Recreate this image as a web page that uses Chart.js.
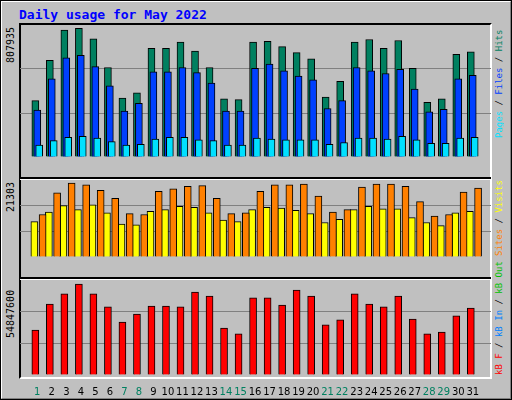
<!DOCTYPE html>
<html><head><meta charset="utf-8">
<script src="https://cdn.jsdelivr.net/npm/chart.js@4"></script>
<style>
body{margin:0;background:#fff}
#wrap{position:absolute;left:0;top:0;width:508px;height:396px;background:#c0c0c0;border-top:2px solid #fff;border-left:2px solid #fff;border-right:2px solid #808080;border-bottom:2px solid #808080;box-sizing:content-box}
#outer{position:absolute;left:0;top:0;width:512px;height:400px;border:1px solid #000;box-sizing:border-box}
.c{position:absolute}
.frame{position:absolute;border:2px solid #000;box-sizing:border-box}
.sep{position:absolute;left:20px;width:471px;height:2px;background:#000;border-bottom:1px solid #fff}
.vl{position:absolute;writing-mode:vertical-rl;transform:rotate(180deg);font-family:"DejaVu Sans Mono",monospace;white-space:nowrap}
#title{position:absolute;left:19px;top:7px;font:bold 13px "DejaVu Sans Mono",monospace;color:#0000ff}
</style></head>
<body>
<div id="wrap"></div>
<div id="outer"></div>
<div id="title">Daily usage for May 2022</div>
<div class="frame" style="left:19px;top:23px;width:473px;height:356px;border-color:#000;border-right-color:#fff;border-bottom-color:#fff"></div>
<div class="sep" style="top:177px"></div>
<div class="sep" style="top:277px"></div>
<canvas id="c1" class="c" width="471" height="152" style="left:20px;top:25px"></canvas>
<canvas id="c2" class="c" width="471" height="97" style="left:20px;top:180px"></canvas>
<canvas id="c3" class="c" width="471" height="115" style="left:20px;top:280px"></canvas>
<div class="vl" style="left:5px;top:25px;font-size:10px;height:38px">807935</div>
<div class="vl" style="left:5px;top:180px;font-size:10px;height:32px">21303</div>
<div class="vl" style="left:5px;top:282px;font-size:10px;height:56px">54847600</div>
<div class="vl" style="left:494px;top:30px;font-size:9px;height:108px"><span style="color:#00e0ff">Pages</span> / <span style="color:#0040ff">Files</span> / <span style="color:#008060">Hits</span></div>
<div class="vl" style="left:494px;top:180px;font-size:9px;height:76px"><span style="color:#ff8000">Sites</span> / <span style="color:#ffff00">Visits</span></div>
<div class="vl" style="left:494px;top:261px;font-size:9px;height:114px"><span style="color:#ff0000">kB F</span> / <span style="color:#0080ff">kB In</span> / <span style="color:#00c000">kB Out</span></div>
<script>
const days = Array.from({length: 31}, (_, i) => i + 1);
const weekend = [1, 7, 8, 14, 15, 21, 22, 28, 29];
const hitsMax = 807935, visitsMax = 21303, kbMax = 54847600;
const hits = [345000,591000,777000,788000,724000,548000,361000,393000,665000,665000,703000,649000,548000,356000,351000,703000,708000,676000,639000,601000,367000,463000,703000,719000,665000,713000,543000,335000,356000,628000,644000];
const files = [287000,479000,607000,623000,553000,436000,281000,329000,521000,521000,548000,516000,452000,281000,281000,543000,569000,527000,495000,473000,297000,345000,548000,527000,511000,537000,415000,276000,292000,479000,500000];
const pages = [73000,100000,121000,126000,116000,94000,73000,78000,110000,121000,121000,105000,100000,73000,73000,116000,110000,105000,105000,105000,78000,89000,116000,116000,110000,126000,105000,84000,84000,116000,121000];
const visits = [11770,17760,20420,19980,18430,16200,11990,11770,18200,18870,19540,19760,16200,11990,12210,18200,19980,19980,20200,16870,12430,13100,19310,20200,20200,19540,15320,11320,11770,17980,19090];
const sites = [9770,12430,14210,13100,14430,12210,9100,8880,12650,13100,13990,13760,12210,10210,9770,13100,13760,13540,12880,11990,9550,10430,13100,13990,13320,13320,10880,9550,8660,12210,12650];
const kbytes = [26.0,41.0,46.8,52.5,46.8,39.3,30.6,35.2,39.8,39.8,39.3,47.9,45.6,27.1,23.7,44.5,44.5,40.4,49.1,45.6,28.9,31.8,46.8,41.0,39.3,45.6,32.3,23.7,24.8,34.1,38.7].map(v => v * 1e6);

const step = 1 / 7.5; // 2px offset between overlapped bars

function ds(values, shift, color) {
  return {
    data: values.map((v, i) => ({x: days[i] + shift, y: v})),
    backgroundColor: color, borderColor: '#000', borderWidth: 1,
    barThickness: 7, grouped: false
  };
}

function makeChart(id, datasets, max, showDays) {
  return new Chart(document.getElementById(id), {
    type: 'bar',
    data: {datasets: datasets},
    options: {
      responsive: false, animation: false, devicePixelRatio: 1,
      layout: {padding: 0},
      plugins: {legend: {display: false}, tooltip: {enabled: false}},
      scales: {
        x: {
          type: 'linear', min: 1 - 10 / 15, max: 1 - 10 / 15 + 471 / 15,
          display: showDays,
          grid: {display: false}, border: {display: false},
          afterBuildTicks: s => { s.ticks = days.map(d => ({value: d})); },
          afterFit: s => { s.height = 20; },
          ticks: {
            autoSkip: false, maxRotation: 0, padding: 3,
            font: {family: 'DejaVu Sans', size: 10},
            color: c => weekend.includes(c.tick.value) ? '#008060' : '#000',
            callback: v => String(v)
          }
        },
        y: {
          min: 0, max: max,
          afterBuildTicks: s => { s.ticks = [0, max / 3, max * 2 / 3, max].map(v => ({value: v})); },
          ticks: {display: false},
          grid: {color: c => (c.tick.value > 0 && c.tick.value < max) ? '#808080' : 'rgba(0,0,0,0)', drawTicks: false, lineWidth: 1},
          border: {display: false}
        }
      }
    }
  });
}

makeChart('c1', [ds(pages, step, '#00e0ff'), ds(files, 0, '#0040ff'), ds(hits, -step, '#008060')], hitsMax, false);
makeChart('c2', [ds(visits, step / 2 + 0.3, '#ff8000'), ds(sites, -0.2, '#ffff00')], visitsMax, false);
makeChart('c3', [ds(kbytes, -step, '#ff0000')], kbMax, true);
</script>
</body></html>
